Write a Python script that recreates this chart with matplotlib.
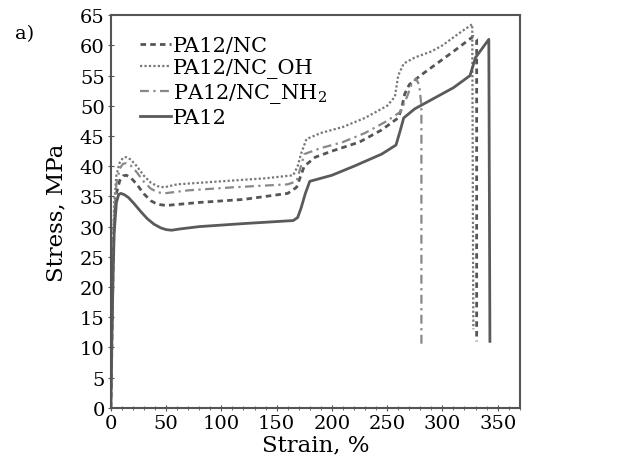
import matplotlib
matplotlib.use("Agg")
import matplotlib.pyplot as plt
from matplotlib.ticker import MultipleLocator

plt.rcParams['font.family'] = ['DejaVu Serif']
plt.rcParams['mathtext.fontset'] = 'dejavuserif'

# strain (%) / stress (MPa)
nc_x = [0, 1, 2, 3, 5, 8, 11, 14, 18, 23, 30, 36, 42, 50, 80, 120, 160, 168, 172, 175,
        185, 200, 225, 245, 260, 263, 266, 270, 280, 295, 310, 328, 331, 331]
nc_y = [0, 12, 24, 31, 35.5, 37.6, 38.4, 38.5, 38.1, 37.1, 35.4, 34.3, 33.7, 33.5, 34,
        34.5, 35.5, 36.5, 38.5, 40, 41.5, 42.5, 44, 46, 48, 49.5, 52, 53.5, 55, 57, 59,
        61.5, 61, 11]

oh_x = [0, 1, 2, 3, 5, 8, 11, 14, 18, 23, 30, 36, 42, 48, 60, 100, 140, 165, 169, 172,
        177, 190, 210, 230, 250, 257, 260, 265, 275, 290, 300, 315, 327, 328]
oh_y = [0, 14, 27, 34, 38.5, 40.6, 41.4, 41.5, 41.1, 40.1, 38.4, 37.3, 36.7, 36.5, 37,
        37.5, 38, 38.5, 40, 42, 44.5, 45.5, 46.5, 48, 50, 51.5, 55, 57, 58, 59, 60, 62,
        63.5, 13]

nh_x = [0, 1, 2, 3, 5, 8, 11, 14, 18, 23, 30, 36, 42, 48, 70, 110, 160, 168, 172, 175,
        190, 210, 230, 250, 262, 268, 272, 276, 279, 281, 281]
nh_y = [0, 13, 25, 32, 37, 39.6, 40.4, 40.5, 40.1, 39.1, 37.4, 36.3, 35.7, 35.5, 36,
        36.5, 37, 37.5, 40, 42, 43, 44, 45.5, 47.5, 49, 51.5, 53.5, 54.5, 53.5, 50, 10.5]

pa_x = [0, 1, 2, 3, 5, 7, 9, 12, 16, 21, 27, 33, 39, 45, 50, 55, 62, 80, 120, 165, 169,
        172, 176, 180, 200, 220, 245, 258, 262, 265, 275, 290, 310, 325, 330, 342, 343]
pa_y = [0, 12, 22, 29, 34, 35.3, 35.5, 35.3, 34.8, 33.8, 32.5, 31.3, 30.4, 29.8, 29.5,
        29.4, 29.6, 30, 30.5, 31, 31.5, 33, 35.5, 37.5, 38.5, 40, 42, 43.5, 46, 48, 49.5,
        51, 53, 55, 58, 61, 11]

labels = ['PA12/NC', 'PA12/NC_OH', 'PA12/NC_NH$_2$', 'PA12']

fig = plt.figure(figsize=(6.3, 4.77), dpi=100)
ax = fig.add_axes([0.176, 0.143, 0.649, 0.823])

ax.plot(nc_x, nc_y, color='#555555', lw=2.0, ls=(0, (2, 1.5)), label=labels[0])
ax.plot(oh_x, oh_y, color='#777777', lw=1.6, ls=(0, (1, 1)), label=labels[1])
ax.plot(nh_x, nh_y, color='#888888', lw=1.6, ls=(0, (4, 2, 1, 2)), label=labels[2])
ax.plot(pa_x, pa_y, color='#5a5a5a', lw=2.0, ls='-', label=labels[3])

ax.set_xlim(0, 370)
ax.set_ylim(0, 65)
ax.xaxis.set_major_locator(MultipleLocator(50))
ax.xaxis.set_minor_locator(MultipleLocator(10))
ax.yaxis.set_major_locator(MultipleLocator(5))
ax.tick_params(which='major', direction='inout', length=5, labelsize=14, color='#555555', pad=2)
ax.tick_params(which='minor', direction='inout', length=3, color='#555555')
for s in ax.spines.values():
    s.set_color('#555555')
    s.set_linewidth(1.5)

ax.set_xlabel('Strain, %', fontsize=16.5, labelpad=1)
ax.set_ylabel('Stress, MPa', fontsize=16.5, labelpad=9)

ax.legend(loc='upper left', bbox_to_anchor=(0.05, 0.968), frameon=False, fontsize=15,
          handlelength=1.5, handletextpad=0.1, labelspacing=0.15, borderaxespad=0)

fig.text(0.024, 0.918, 'a)', fontsize=14)

fig.savefig('out.png', dpi=100)
